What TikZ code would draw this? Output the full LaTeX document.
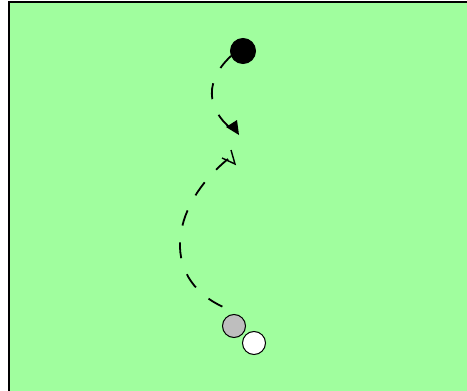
\documentclass[tikz,border=0pt]{standalone}
\definecolor{fieldgreen}{RGB}{160,254,158}
\definecolor{ballgray}{RGB}{190,190,190}
\tikzset{
  route/.style={line width=1.8pt, dash pattern=on 16pt off 17pt},
  ball/.style={circle, draw=black, line width=1pt, minimum size=23pt, inner sep=0pt},
}
\begin{document}
\begin{tikzpicture}[x=1pt,y=-1pt]
\useasboundingbox (0,0) rectangle (467,391);
\fill[white] (0,0) rectangle (467,391);
\fill[fieldgreen] (10,3) rectangle (467,391);
\draw[line width=2pt] (9,391) -- (9,2) -- (467,2);
\node[ball, fill=black, minimum width=25pt, minimum height=23pt] (b1) at (243,51) {};
\node[ball, fill=ballgray] (b2) at (234,326) {};
\node[ball, fill=white] (b3) at (254,343) {};
\coordinate (e1) at (237,133);
\coordinate (s2) at (228,309);
\coordinate (e2) at (228,159);
\draw[route] (231,56) .. controls (200,85) and (210,115) .. (e1);
\fill (226,127) -- (237,120) -- (239,135) -- cycle;
\draw[route] (e2) .. controls (168,208) and (160,282) .. (s2);
\draw[line width=1.4pt] (222,158) -- (235,164) -- (231,150);
\end{tikzpicture}
\end{document}
